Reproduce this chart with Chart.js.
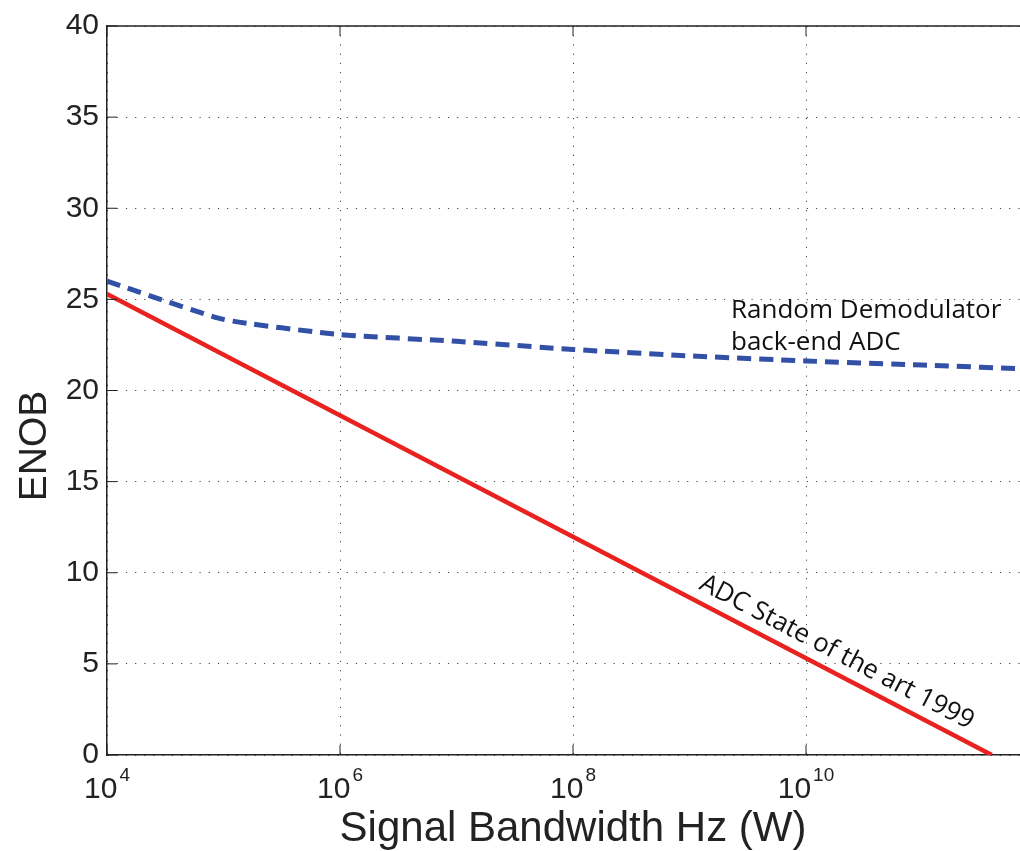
<!DOCTYPE html>
<html>
<head>
<meta charset="utf-8">
<script src="https://cdn.jsdelivr.net/npm/chart.js@4.4.0/dist/chart.umd.min.js"></script>
<style>
  html, body { margin: 0; padding: 0; background: #fff; overflow: hidden; }
  #wrap { width: 1100px; height: 851px; }
</style>
</head>
<body>
<div id="wrap"><canvas id="enobChart" width="1100" height="851"></canvas></div>
<script>
// bandwidth (Hz) and ENOB
const rdBandwidth = [1e4, 1e5, 1e6, 1e7, 1e8, 1e9, 1e10, 1e11, 1e12];
const rdEnob = [26.0, 23.9, 23.07, 22.7, 22.25, 21.9, 21.62, 21.4, 21.15];
const adcBandwidth = [1e4, 3.93e11];
const adcEnob = [25.3, 0];
const xTickExponents = [4, 6, 8, 10];
const yTicks = [0, 5, 10, 15, 20, 25, 30, 35, 40];

const AXIS_COLOR = '#222';
const GRID_COLOR = '#444';
const SANS = '"Liberation Sans", Arial, sans-serif';

function toPoints(xs, ys) {
    return xs.map((x, i) => ({ x: x, y: ys[i] }));
}

const decorPlugin = {
    id: 'decor',
    afterDraw(chart) {
        const ctx = chart.ctx;
        const area = chart.chartArea;
        const xs = chart.scales.x;
        const ys = chart.scales.y;

        ctx.save();
        // top frame line
        ctx.strokeStyle = AXIS_COLOR;
        ctx.lineWidth = 1.5;
        ctx.beginPath();
        ctx.moveTo(area.left, area.top);
        ctx.lineTo(area.right + 5, area.top);
        ctx.stroke();

        // inward tick marks
        ctx.lineWidth = 1;
        xTickExponents.forEach(e => {
            const px = xs.getPixelForValue(Math.pow(10, e));
            ctx.beginPath();
            ctx.moveTo(px, area.bottom);
            ctx.lineTo(px, area.bottom - 10);
            ctx.moveTo(px, area.top);
            ctx.lineTo(px, area.top + 10);
            ctx.stroke();
        });
        yTicks.forEach(v => {
            const py = ys.getPixelForValue(v);
            ctx.beginPath();
            ctx.moveTo(area.left, py);
            ctx.lineTo(area.left + 10, py);
            ctx.stroke();
        });

        // x tick labels as 10 with a superscript exponent
        ctx.fillStyle = AXIS_COLOR;
        ctx.textBaseline = 'alphabetic';
        ctx.textAlign = 'left';
        const baseFont = '30px ' + SANS;
        const expFont = '19px ' + SANS;
        xTickExponents.forEach(e => {
            const px = xs.getPixelForValue(Math.pow(10, e));
            ctx.font = baseFont;
            const wBase = ctx.measureText('10').width;
            ctx.font = expFont;
            const wExp = ctx.measureText(String(e)).width;
            const start = px - (wBase + wExp + 2) / 2;
            ctx.font = baseFont;
            ctx.fillText('10', start, area.bottom + 43);
            ctx.font = expFont;
            ctx.fillText(String(e), start + wBase + 2, area.bottom + 26);
        });

        // y axis title, sits a bit below the middle in the original
        ctx.save();
        ctx.font = '39px ' + SANS;
        ctx.textAlign = 'center';
        ctx.textBaseline = 'middle';
        ctx.translate(35, 446);
        ctx.rotate(-Math.PI / 2);
        ctx.fillText('ENOB', 0, 0);
        ctx.restore();

        // annotations
        ctx.fillStyle = '#111';
        ctx.textAlign = 'left';
        ctx.textBaseline = 'alphabetic';
        ctx.font = '26px "Open Sans", sans-serif';
        const rx = xs.getPixelForValue(2.27e9);
        ctx.fillText('Random Demodulator', rx, ys.getPixelForValue(24.0));
        ctx.fillText('back-end ADC', rx, ys.getPixelForValue(22.2));

        // text along the red line
        const x0 = xs.getPixelForValue(adcBandwidth[0]);
        const y0 = ys.getPixelForValue(adcEnob[0]);
        const x1 = xs.getPixelForValue(adcBandwidth[1]);
        const y1 = ys.getPixelForValue(adcEnob[1]);
        const ang = Math.atan2(y1 - y0, x1 - x0);
        const ax = xs.getPixelForValue(1.06e9);
        const ay = y0 + (ax - x0) * (y1 - y0) / (x1 - x0);
        const off = 12;
        ctx.translate(ax + off * Math.sin(ang), ay - off * Math.cos(ang));
        ctx.rotate(ang);
        ctx.fillText('ADC State of the art 1999', 0, 0);
        ctx.restore();
    }
};

const ctx = document.getElementById('enobChart').getContext('2d');
new Chart(ctx, {
    type: 'line',
    data: {
        datasets: [
            {
                label: 'Random Demodulator back-end ADC',
                data: toPoints(rdBandwidth, rdEnob),
                borderColor: '#3150a6',
                borderWidth: 5,
                borderDash: [14, 8],
                pointRadius: 0,
                tension: 0.15,
                fill: false
            },
            {
                label: 'ADC State of the art 1999',
                data: toPoints(adcBandwidth, adcEnob),
                borderColor: '#e8221f',
                borderWidth: 4.5,
                pointRadius: 0,
                tension: 0,
                fill: false
            }
        ]
    },
    options: {
        responsive: false,
        animation: false,
        layout: { padding: { left: 0, top: 21, right: 61, bottom: 0 } },
        plugins: {
            legend: { display: false },
            tooltip: { enabled: false }
        },
        scales: {
            x: {
                type: 'logarithmic',
                min: 1e4,
                max: 1e12,
                afterBuildTicks: scale => {
                    scale.ticks = xTickExponents.map(e => ({ value: Math.pow(10, e) }));
                },
                afterFit: scale => { scale.height = 96; },
                ticks: { display: false },
                grid: {
                    color: GRID_COLOR,
                    lineWidth: 1,
                    drawTicks: false
                },
                border: { display: true, color: AXIS_COLOR, width: 1.5, dash: [1.2, 8] },
                title: {
                    display: true,
                    text: 'Signal Bandwidth Hz (W)',
                    color: AXIS_COLOR,
                    font: { family: SANS, size: 42 },
                    padding: { top: 0, bottom: -4 }
                }
            },
            y: {
                min: 0,
                max: 40,
                afterBuildTicks: scale => {
                    scale.ticks = yTicks.map(v => ({ value: v }));
                },
                afterFit: scale => { scale.width = 107; },
                ticks: {
                    color: AXIS_COLOR,
                    padding: 8,
                    font: { family: SANS, size: 30 }
                },
                grid: {
                    color: GRID_COLOR,
                    lineWidth: 1,
                    drawTicks: false
                },
                border: { display: true, color: AXIS_COLOR, width: 1.5, dash: [1.2, 8] },
                title: { display: false }
            }
        }
    },
    plugins: [decorPlugin]
});
</script>
</body>
</html>
